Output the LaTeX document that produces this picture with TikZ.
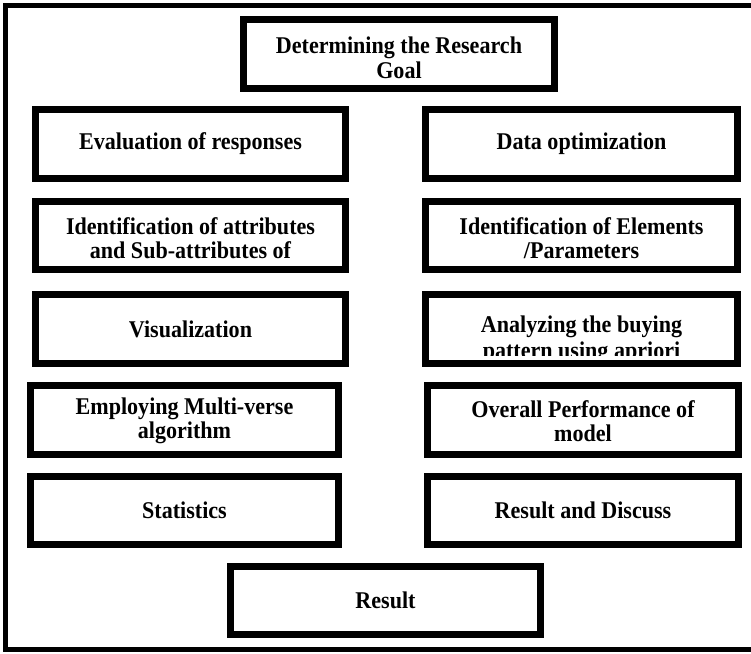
\documentclass[tikz,border=0pt]{standalone}
\usepackage{fontspec}
\setmainfont[FakeStretch=0.92]{Liberation Serif}
\begin{document}
\begin{tikzpicture}[x=1pt,y=-1pt,
  frame/.style={line width=5pt},
  stage/.style={draw, line width=7pt, inner sep=0pt, align=center,
    font=\bfseries\fontsize{24}{23.5}\selectfont},
  label/.style={inner sep=0pt, align=center,
    font=\bfseries\fontsize{24}{23.5}\selectfont},
]
\useasboundingbox (0,0) rectangle (751,653);

% open outer frame (left, top and bottom sides)
\coordinate (ftr) at (751,5);
\coordinate (fbr) at (751,649.5);
\draw[frame] (ftr) -| (5.5,649.5) -- (fbr);

% heading
\node[stage, minimum width=311pt, minimum height=69pt] (goal) at (399,54) {};
\node[label] (goaltext) at (399,58) {Determining the Research\\[1.5pt]Goal};

% left column
\node[stage, minimum width=310pt, minimum height=69pt] (eval) at (190.5,144)
  {Evaluation of responses};
\node[stage, minimum width=310pt, minimum height=68pt] (attr) at (190.5,235.5) {};
\node[label] (attrtext) at (190.5,238)
  {Identification of attributes\\and Sub-attributes of};
\node[stage, minimum width=310pt, minimum height=69pt] (visu) at (190.5,329)
  {Visualization};
\node[stage, minimum width=308pt, minimum height=69pt] (mvo) at (184.5,420) {};
\node[label] (mvotext) at (184.5,421)
  {Employing Multi-verse\\algorithm};
\node[stage, minimum width=308pt, minimum height=68pt] (stat) at (184.5,510.5)
  {Statistics};

% right column
\node[stage, minimum width=312pt, minimum height=69pt] (opt) at (581.5,144)
  {Data optimization};
\node[stage, minimum width=312pt, minimum height=68pt] (elem) at (581.5,235.5) {};
\node[label] (elemtext) at (581.5,238)
  {Identification of Elements\\/Parameters};
\node[stage, minimum width=312pt, minimum height=69pt] (buy) at (581.5,329) {};
\begin{scope}
  \clip (425.5,294.5) rectangle (737.5,355);
  \node[label] (buytext) at (581.5,340)
    {Analyzing the buying\\[2.5pt]pattern using apriori};
\end{scope}
\node[stage, minimum width=311pt, minimum height=69pt] (perf) at (583,420) {};
\node[label] (perftext) at (583,421)
  {Overall Performance of\\model};
\node[stage, minimum width=311pt, minimum height=68pt] (disc) at (583,510.5)
  {Result and Discuss};

% final stage
\node[stage, minimum width=310pt, minimum height=68pt] (res) at (385.5,600.5)
  {Result};
\end{tikzpicture}
\end{document}
